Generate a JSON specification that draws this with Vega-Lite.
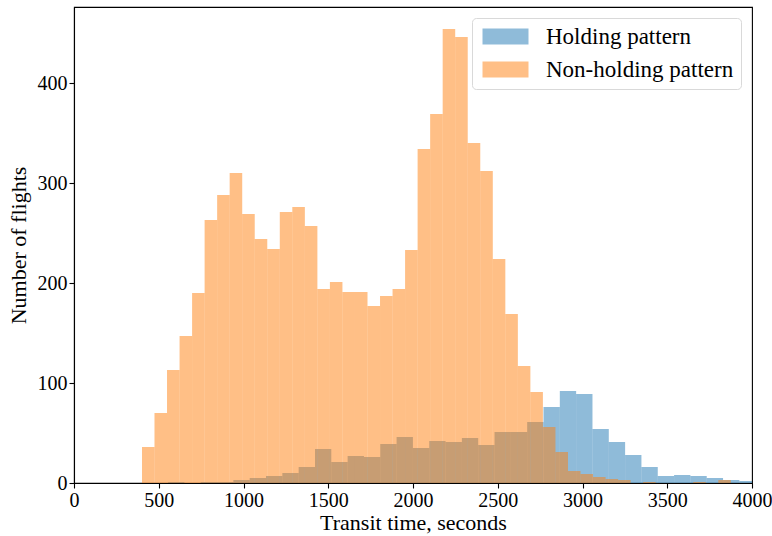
{
  "$schema": "https://vega.github.io/schema/vega-lite/v6.json",
  "width": 678,
  "height": 476,
  "autosize": "none",
  "padding": {"left": 74, "top": 7, "right": 20, "bottom": 53},
  "background": "white",
  "data": {
    "values": [
      {"series": "Holding pattern", "start": 555.0, "end": 651.3, "count": 1},
      {"series": "Holding pattern", "start": 747.6, "end": 843.9, "count": 1},
      {"series": "Holding pattern", "start": 843.9, "end": 940.2, "count": 1},
      {"series": "Holding pattern", "start": 940.2, "end": 1036.5, "count": 3},
      {"series": "Holding pattern", "start": 1036.5, "end": 1132.8, "count": 5},
      {"series": "Holding pattern", "start": 1132.8, "end": 1229.1, "count": 7},
      {"series": "Holding pattern", "start": 1229.1, "end": 1325.4, "count": 10},
      {"series": "Holding pattern", "start": 1325.4, "end": 1421.7, "count": 16},
      {"series": "Holding pattern", "start": 1421.7, "end": 1518.0, "count": 34},
      {"series": "Holding pattern", "start": 1518.0, "end": 1614.3, "count": 21},
      {"series": "Holding pattern", "start": 1614.3, "end": 1710.6, "count": 27},
      {"series": "Holding pattern", "start": 1710.6, "end": 1806.9, "count": 26},
      {"series": "Holding pattern", "start": 1806.9, "end": 1903.2, "count": 39},
      {"series": "Holding pattern", "start": 1903.2, "end": 1999.5, "count": 46},
      {"series": "Holding pattern", "start": 1999.5, "end": 2095.8, "count": 35},
      {"series": "Holding pattern", "start": 2095.8, "end": 2192.1, "count": 42},
      {"series": "Holding pattern", "start": 2192.1, "end": 2288.4, "count": 41},
      {"series": "Holding pattern", "start": 2288.4, "end": 2384.7, "count": 45},
      {"series": "Holding pattern", "start": 2384.7, "end": 2481.0, "count": 38},
      {"series": "Holding pattern", "start": 2481.0, "end": 2577.3, "count": 51},
      {"series": "Holding pattern", "start": 2577.3, "end": 2673.6, "count": 51},
      {"series": "Holding pattern", "start": 2673.6, "end": 2769.9, "count": 61},
      {"series": "Holding pattern", "start": 2769.9, "end": 2866.2, "count": 76},
      {"series": "Holding pattern", "start": 2866.2, "end": 2962.5, "count": 92},
      {"series": "Holding pattern", "start": 2962.5, "end": 3058.8, "count": 89},
      {"series": "Holding pattern", "start": 3058.8, "end": 3155.1, "count": 54},
      {"series": "Holding pattern", "start": 3155.1, "end": 3251.4, "count": 41},
      {"series": "Holding pattern", "start": 3251.4, "end": 3347.7, "count": 28},
      {"series": "Holding pattern", "start": 3347.7, "end": 3444.0, "count": 16},
      {"series": "Holding pattern", "start": 3444.0, "end": 3540.3, "count": 7},
      {"series": "Holding pattern", "start": 3540.3, "end": 3636.6, "count": 8},
      {"series": "Holding pattern", "start": 3636.6, "end": 3732.9, "count": 7},
      {"series": "Holding pattern", "start": 3732.9, "end": 3829.2, "count": 5},
      {"series": "Holding pattern", "start": 3829.2, "end": 3925.5, "count": 3},
      {"series": "Holding pattern", "start": 3925.5, "end": 4021.8, "count": 2},
      {"series": "Non-holding pattern", "start": 401.0, "end": 474.9, "count": 36},
      {"series": "Non-holding pattern", "start": 474.9, "end": 548.8, "count": 70},
      {"series": "Non-holding pattern", "start": 548.8, "end": 622.8, "count": 113},
      {"series": "Non-holding pattern", "start": 622.8, "end": 696.7, "count": 147},
      {"series": "Non-holding pattern", "start": 696.7, "end": 770.6, "count": 190},
      {"series": "Non-holding pattern", "start": 770.6, "end": 844.5, "count": 263},
      {"series": "Non-holding pattern", "start": 844.5, "end": 918.4, "count": 288},
      {"series": "Non-holding pattern", "start": 918.4, "end": 992.4, "count": 310},
      {"series": "Non-holding pattern", "start": 992.4, "end": 1066.3, "count": 269},
      {"series": "Non-holding pattern", "start": 1066.3, "end": 1140.2, "count": 244},
      {"series": "Non-holding pattern", "start": 1140.2, "end": 1214.1, "count": 234},
      {"series": "Non-holding pattern", "start": 1214.1, "end": 1288.0, "count": 271},
      {"series": "Non-holding pattern", "start": 1288.0, "end": 1362.0, "count": 276},
      {"series": "Non-holding pattern", "start": 1362.0, "end": 1435.9, "count": 257},
      {"series": "Non-holding pattern", "start": 1435.9, "end": 1509.8, "count": 194},
      {"series": "Non-holding pattern", "start": 1509.8, "end": 1583.7, "count": 201},
      {"series": "Non-holding pattern", "start": 1583.7, "end": 1657.6, "count": 191},
      {"series": "Non-holding pattern", "start": 1657.6, "end": 1731.6, "count": 191},
      {"series": "Non-holding pattern", "start": 1731.6, "end": 1805.5, "count": 177},
      {"series": "Non-holding pattern", "start": 1805.5, "end": 1879.4, "count": 187},
      {"series": "Non-holding pattern", "start": 1879.4, "end": 1953.3, "count": 194},
      {"series": "Non-holding pattern", "start": 1953.3, "end": 2027.2, "count": 233},
      {"series": "Non-holding pattern", "start": 2027.2, "end": 2101.2, "count": 334},
      {"series": "Non-holding pattern", "start": 2101.2, "end": 2175.1, "count": 369},
      {"series": "Non-holding pattern", "start": 2175.1, "end": 2249.0, "count": 454},
      {"series": "Non-holding pattern", "start": 2249.0, "end": 2322.9, "count": 446},
      {"series": "Non-holding pattern", "start": 2322.9, "end": 2396.8, "count": 340},
      {"series": "Non-holding pattern", "start": 2396.8, "end": 2470.8, "count": 312},
      {"series": "Non-holding pattern", "start": 2470.8, "end": 2544.7, "count": 224},
      {"series": "Non-holding pattern", "start": 2544.7, "end": 2618.6, "count": 169},
      {"series": "Non-holding pattern", "start": 2618.6, "end": 2692.5, "count": 117},
      {"series": "Non-holding pattern", "start": 2692.5, "end": 2766.4, "count": 91},
      {"series": "Non-holding pattern", "start": 2766.4, "end": 2840.4, "count": 56},
      {"series": "Non-holding pattern", "start": 2840.4, "end": 2914.3, "count": 31},
      {"series": "Non-holding pattern", "start": 2914.3, "end": 2988.2, "count": 12},
      {"series": "Non-holding pattern", "start": 2988.2, "end": 3062.1, "count": 9},
      {"series": "Non-holding pattern", "start": 3062.1, "end": 3136.0, "count": 6},
      {"series": "Non-holding pattern", "start": 3136.0, "end": 3210.0, "count": 4},
      {"series": "Non-holding pattern", "start": 3210.0, "end": 3283.9, "count": 3},
      {"series": "Non-holding pattern", "start": 3357.8, "end": 3431.7, "count": 1},
      {"series": "Non-holding pattern", "start": 3653.5, "end": 3727.4, "count": 1},
      {"series": "Non-holding pattern", "start": 3801.3, "end": 3875.2, "count": 3}
    ]
  },
  "mark": {"type": "bar", "opacity": 0.5, "clip": true, "strokeWidth": 0},
  "encoding": {
    "x": {
      "field": "start",
      "type": "quantitative",
      "scale": {"domain": [0, 4000], "nice": false, "zero": false},
      "axis": {"values": [0, 500, 1000, 1500, 2000, 2500, 3000, 3500, 4000], "format": "d", "title": "Transit time, seconds", "titlePadding": 2}
    },
    "x2": {"field": "end"},
    "y": {
      "field": "count",
      "type": "quantitative",
      "stack": null,
      "scale": {"domain": [0, 476], "nice": false},
      "axis": {"values": [0, 100, 200, 300, 400], "format": "d", "title": "Number of flights", "titlePadding": 7}
    },
    "y2": {"datum": 0},
    "color": {
      "field": "series",
      "type": "nominal",
      "scale": {"domain": ["Holding pattern", "Non-holding pattern"], "range": ["#1f77b4", "#ff7f0e"]},
      "legend": {
        "title": null,
        "orient": "none",
        "legendX": 398,
        "legendY": 11,
        "fillColor": "rgba(255,255,255,0.8)",
        "strokeColor": "#d9d9d9",
        "cornerRadius": 4,
        "padding": 7,
        "symbolType": "M-2.3,-0.8L2.3,-0.8L2.3,0.8L-2.3,0.8Z",
        "symbolSize": 400,
        "symbolOffset": 15,
        "symbolStrokeWidth": 0,
        "symbolOpacity": 0.5,
        "labelFont": "Liberation Serif",
        "labelFontSize": 23,
        "labelColor": "black",
        "labelOffset": 29,
        "labelLimit": 400,
        "rowPadding": 9
      }
    }
  },
  "config": {
    "font": "Liberation Serif",
    "view": {"stroke": "black", "strokeWidth": 1.1},
    "axis": {
      "grid": false,
      "domainColor": "black",
      "domainWidth": 1.1,
      "tickColor": "black",
      "tickWidth": 1.1,
      "tickSize": 5,
      "labelFont": "Liberation Serif",
      "labelFontSize": 20,
      "labelColor": "black",
      "labelPadding": 2,
      "titleFont": "Liberation Serif",
      "titleFontSize": 22,
      "titleFontWeight": "normal",
      "titleColor": "black",
      "labelFlush": false,
      "labelOverlap": false
    }
  }
}
